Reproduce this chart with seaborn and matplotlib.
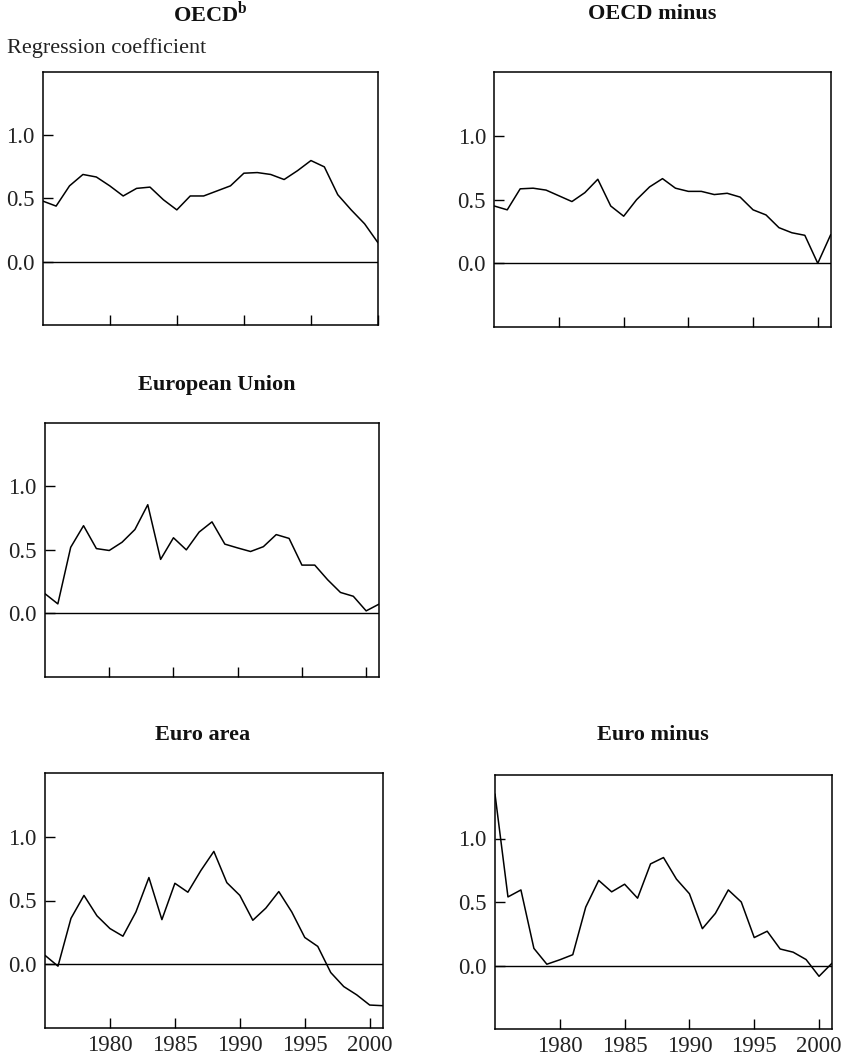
import numpy as np
import pandas as pd
import matplotlib
matplotlib.use("Agg")
import matplotlib.pyplot as plt
import seaborn as sns

years_2000 = list(range(1975, 2001))
years_2001 = list(range(1975, 2002))

oecd = [0.48, 0.44, 0.60, 0.69, 0.67, 0.60, 0.52, 0.58, 0.59, 0.49, 0.41, 0.52, 0.52,
        0.56, 0.60, 0.70, 0.705, 0.69, 0.65, 0.72, 0.80, 0.75, 0.53, 0.41, 0.30, 0.15]
oecd_minus = [0.45, 0.42, 0.585, 0.59, 0.575, 0.53, 0.485, 0.555, 0.66, 0.45, 0.37, 0.50,
              0.60, 0.665, 0.59, 0.565, 0.565, 0.54, 0.55, 0.52, 0.42, 0.38, 0.28, 0.24,
              0.22, 0.00, 0.225]
eu = [0.155, 0.075, 0.52, 0.69, 0.51, 0.495, 0.56, 0.66, 0.855, 0.425, 0.595, 0.50, 0.64,
      0.72, 0.545, 0.515, 0.487, 0.525, 0.62, 0.59, 0.38, 0.38, 0.265, 0.165, 0.135,
      0.02, 0.073]
euro_area = [0.07, -0.015, 0.36, 0.54, 0.38, 0.28, 0.22, 0.41, 0.68, 0.35, 0.635, 0.565,
             0.735, 0.885, 0.64, 0.54, 0.345, 0.44, 0.57, 0.41, 0.21, 0.14, -0.065,
             -0.175, -0.24, -0.32, -0.325]
euro_minus = [1.35, 0.54, 0.595, 0.135, 0.01, 0.045, 0.085, 0.46, 0.67, 0.58, 0.64, 0.53,
              0.80, 0.85, 0.68, 0.565, 0.29, 0.41, 0.595, 0.50, 0.22, 0.27, 0.13, 0.105,
              0.047, -0.085, 0.018]

titles = [r"OECD$^{\mathbf{b}}$", "OECD minus", "European Union", "Euro area", "Euro minus"]
y_ticks = [0.0, 0.5, 1.0]
x_ticks = [1980, 1985, 1990, 1995, 2000]

sns.set_theme(style="white")
plt.rcParams['font.family'] = ['Liberation Serif', 'DejaVu Serif']
plt.rcParams['mathtext.fontset'] = 'custom'
plt.rcParams['mathtext.rm'] = 'Liberation Serif'
plt.rcParams['mathtext.bf'] = 'Liberation Serif:bold'

W, H = 849, 1058
fig = plt.figure(figsize=(W / 100, H / 100), dpi=100)

def rect(l, r, t, b):
    return [l / W, 1 - b / H, (r - l) / W, (b - t) / H]

panels = [
    (rect(42.7, 378, 72, 325), years_2000, oecd, False, 2000),
    (rect(494.3, 830.7, 72.3, 327), years_2001, oecd_minus, False, 2001),
    (rect(45, 379, 422.7, 677), years_2001, eu, False, 2001),
    (rect(45, 382.7, 773, 1028), years_2001, euro_area, True, 2001),
    (rect(495, 832, 775, 1029), years_2001, euro_minus, True, 2001),
]

for pos, yrs, vals, show_x, xmax in panels:
    ax = fig.add_axes(pos)
    df = pd.DataFrame({"year": yrs, "value": vals})
    sns.lineplot(data=df, x="year", y="value", ax=ax, color="black", linewidth=1.1)
    ax.axhline(0, color="black", linewidth=1.0)
    ax.set_xlim(1975, xmax)
    ax.set_ylim(-0.5, 1.5)
    ax.set_yticks(y_ticks)
    ax.set_yticklabels([f"{v:.1f}" for v in y_ticks])
    ax.set_xticks(x_ticks)
    if show_x:
        ax.set_xticklabels([str(v) for v in x_ticks])
    else:
        ax.set_xticklabels([])
    ax.tick_params(axis="both", direction="in", length=7, width=1.0, color="black",
                   labelsize=16.5, labelcolor="#222222", pad=6)
    ax.tick_params(axis="y", left=True, right=False)
    ax.tick_params(axis="x", bottom=True, top=False, pad=5)
    ax.set_xlabel("")
    ax.set_ylabel("")
    for s in ax.spines.values():
        s.set_color("black")
        s.set_linewidth(1.1)

title_pos = [(210, 14), (652, 14), (217, 385), (203, 735), (653, 735)]
for (x, y), title in zip(title_pos, titles):
    fig.text(x / W, 1 - y / H, title, fontsize=16, fontweight="bold", ha="center",
             va="center", color="#111111")
fig.text(7 / W, 1 - 48 / H, "Regression coefficient", fontsize=16, ha="left", va="center",
         color="#222222")

fig.savefig("out.png", dpi=100)
